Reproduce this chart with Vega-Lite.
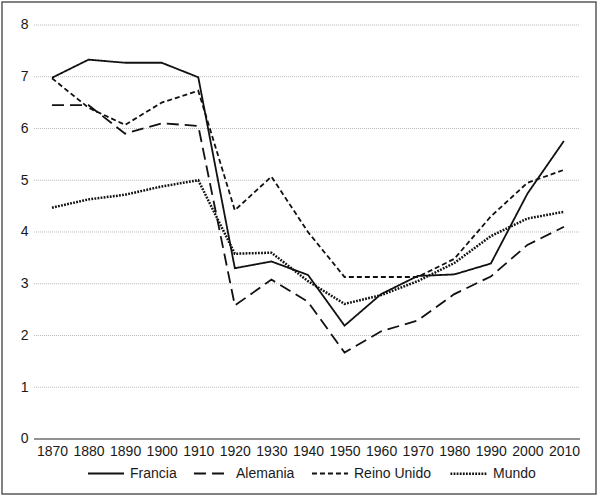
{
  "$schema": "https://vega.github.io/schema/vega-lite/v6.json",
  "autosize": {"type": "none"},
  "width": 594,
  "height": 492,
  "padding": {"left": 2, "top": 2, "right": 4, "bottom": 3},
  "background": "white",
  "config": {
    "view": {"stroke": "#5a5a5a", "strokeWidth": 1.5},
    "font": "Liberation Sans"
  },
  "datasets": {
    "grid": [{"v": 1}, {"v": 2}, {"v": 3}, {"v": 4}, {"v": 5}, {"v": 6}, {"v": 7}, {"v": 8}],
    "series": [
      {"year": 1870, "serie": "Francia", "value": 6.98},
      {"year": 1880, "serie": "Francia", "value": 7.33},
      {"year": 1890, "serie": "Francia", "value": 7.27},
      {"year": 1900, "serie": "Francia", "value": 7.27},
      {"year": 1910, "serie": "Francia", "value": 6.99},
      {"year": 1920, "serie": "Francia", "value": 3.3},
      {"year": 1930, "serie": "Francia", "value": 3.43},
      {"year": 1940, "serie": "Francia", "value": 3.17},
      {"year": 1950, "serie": "Francia", "value": 2.19},
      {"year": 1960, "serie": "Francia", "value": 2.8},
      {"year": 1970, "serie": "Francia", "value": 3.15},
      {"year": 1980, "serie": "Francia", "value": 3.18},
      {"year": 1990, "serie": "Francia", "value": 3.39},
      {"year": 2000, "serie": "Francia", "value": 4.74},
      {"year": 2010, "serie": "Francia", "value": 5.76},
      {"year": 1870, "serie": "Alemania", "value": 6.45},
      {"year": 1880, "serie": "Alemania", "value": 6.45},
      {"year": 1890, "serie": "Alemania", "value": 5.9},
      {"year": 1900, "serie": "Alemania", "value": 6.1},
      {"year": 1910, "serie": "Alemania", "value": 6.05},
      {"year": 1920, "serie": "Alemania", "value": 2.58},
      {"year": 1930, "serie": "Alemania", "value": 3.08},
      {"year": 1940, "serie": "Alemania", "value": 2.65},
      {"year": 1950, "serie": "Alemania", "value": 1.67},
      {"year": 1960, "serie": "Alemania", "value": 2.08},
      {"year": 1970, "serie": "Alemania", "value": 2.29},
      {"year": 1980, "serie": "Alemania", "value": 2.8},
      {"year": 1990, "serie": "Alemania", "value": 3.14},
      {"year": 2000, "serie": "Alemania", "value": 3.75},
      {"year": 2010, "serie": "Alemania", "value": 4.1},
      {"year": 1870, "serie": "Reino Unido", "value": 6.97},
      {"year": 1880, "serie": "Reino Unido", "value": 6.4},
      {"year": 1890, "serie": "Reino Unido", "value": 6.07},
      {"year": 1900, "serie": "Reino Unido", "value": 6.5},
      {"year": 1910, "serie": "Reino Unido", "value": 6.73},
      {"year": 1920, "serie": "Reino Unido", "value": 4.42},
      {"year": 1930, "serie": "Reino Unido", "value": 5.07},
      {"year": 1940, "serie": "Reino Unido", "value": 4.0},
      {"year": 1950, "serie": "Reino Unido", "value": 3.13},
      {"year": 1960, "serie": "Reino Unido", "value": 3.13},
      {"year": 1970, "serie": "Reino Unido", "value": 3.13},
      {"year": 1980, "serie": "Reino Unido", "value": 3.48},
      {"year": 1990, "serie": "Reino Unido", "value": 4.3},
      {"year": 2000, "serie": "Reino Unido", "value": 4.95},
      {"year": 2010, "serie": "Reino Unido", "value": 5.2},
      {"year": 1870, "serie": "Mundo", "value": 4.47},
      {"year": 1880, "serie": "Mundo", "value": 4.63},
      {"year": 1890, "serie": "Mundo", "value": 4.72},
      {"year": 1900, "serie": "Mundo", "value": 4.88},
      {"year": 1910, "serie": "Mundo", "value": 5.0},
      {"year": 1920, "serie": "Mundo", "value": 3.58},
      {"year": 1930, "serie": "Mundo", "value": 3.6},
      {"year": 1940, "serie": "Mundo", "value": 3.05},
      {"year": 1950, "serie": "Mundo", "value": 2.61},
      {"year": 1960, "serie": "Mundo", "value": 2.78},
      {"year": 1970, "serie": "Mundo", "value": 3.05},
      {"year": 1980, "serie": "Mundo", "value": 3.4},
      {"year": 1990, "serie": "Mundo", "value": 3.92},
      {"year": 2000, "serie": "Mundo", "value": 4.26},
      {"year": 2010, "serie": "Mundo", "value": 4.39}
    ]
  },
  "layer": [
    {
      "data": {"name": "grid"},
      "mark": {"type": "rule", "color": "#b8b8b8", "strokeWidth": 1, "strokeDash": [1, 1]},
      "encoding": {
        "y": {
          "field": "v", "type": "quantitative",
          "scale": {"domain": [-1.063, 8.444], "nice": false, "zero": false},
          "axis": {
            "title": null, "values": [0, 1, 2, 3, 4, 5, 6, 7, 8], "offset": -32, "domain": false, "ticks": false, "tickSize": 0, "grid": false,
            "labelPadding": 6, "labelFontSize": 14, "labelColor": "#1a1a1a", "labelFont": "Liberation Sans"
          }
        },
        "x": {"datum": 1865.1, "type": "quantitative", "scale": {"domain": [1856.33, 2018.76], "nice": false, "zero": false}},
        "x2": {"datum": 2014.4}
      }
    },
    {
      "data": {"name": "series"},
      "mark": {"type": "line", "color": "#111111", "strokeCap": "butt", "strokeJoin": "miter"},
      "encoding": {
        "x": {
          "field": "year", "type": "quantitative",
          "scale": {"domain": [1856.33, 2018.76], "nice": false, "zero": false},
          "axis": {
            "title": null, "values": [1870, 1880, 1890, 1900, 1910, 1920, 1930, 1940, 1950, 1960, 1970, 1980, 1990, 2000, 2010],
            "format": "d", "offset": -55, "domain": false, "ticks": false, "tickSize": 0, "grid": false,
            "labelPadding": 5, "labelFontSize": 14, "labelColor": "#1a1a1a", "labelFont": "Liberation Sans"
          }
        },
        "y": {
          "field": "value", "type": "quantitative",
          "scale": {"domain": [-1.063, 8.444], "nice": false, "zero": false},
          "axis": {
            "title": null, "values": [0, 1, 2, 3, 4, 5, 6, 7, 8], "offset": -32, "domain": false, "ticks": false, "tickSize": 0, "grid": false,
            "labelPadding": 6, "labelFontSize": 14, "labelColor": "#1a1a1a", "labelFont": "Liberation Sans"
          }
        },
        "strokeDash": {
          "field": "serie", "type": "ordinal",
          "scale": {"domain": ["Francia", "Alemania", "Reino Unido", "Mundo"], "range": [[1, 0], [12, 6], [5, 3], [1.8, 1.3]]},
          "legend": {
            "title": null, "orient": "none", "legendX": 85, "legendY": 452, "direction": "horizontal",
            "symbolType": "stroke", "symbolSize": 1300, "symbolStrokeColor": "#111111",
            "labelFontSize": 14, "labelFont": "Liberation Sans", "labelColor": "#1a1a1a",
            "labelOffset": 5, "columnPadding": 13
          }
        },
        "strokeWidth": {
          "field": "serie", "type": "ordinal",
          "scale": {"type": "ordinal", "domain": ["Francia", "Alemania", "Reino Unido", "Mundo"], "range": [1.8, 1.8, 1.8, 2.5]},
          "legend": {
            "title": null, "orient": "none", "legendX": 85, "legendY": 452, "direction": "horizontal",
            "symbolType": "stroke", "symbolSize": 1300, "symbolStrokeColor": "#111111",
            "labelFontSize": 14, "labelFont": "Liberation Sans", "labelColor": "#1a1a1a",
            "labelOffset": 5, "columnPadding": 13
          }
        }
      }
    },
    {
      "data": {"values": [{"v": 0}]},
      "mark": {"type": "rule", "color": "#6e6e6e", "strokeWidth": 1.5},
      "encoding": {
        "y": {"field": "v", "type": "quantitative"},
        "x": {"datum": 1865.1, "type": "quantitative"},
        "x2": {"datum": 2014.4}
      }
    }
  ]
}
